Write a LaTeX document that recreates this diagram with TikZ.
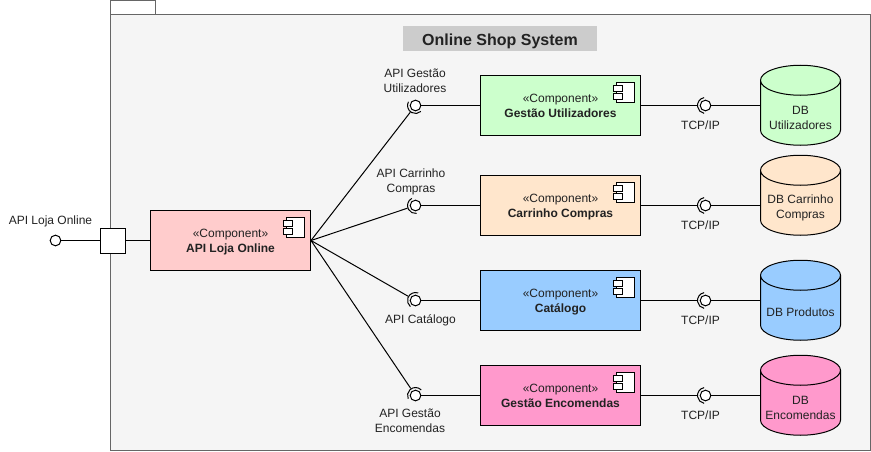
\documentclass[tikz,border=0pt]{standalone}
\usepackage{fontspec}
\setmainfont{Liberation Sans}
\usetikzlibrary{shapes.geometric}
\definecolor{frameGray}{HTML}{666666}
\definecolor{frameFill}{HTML}{F5F5F5}
\definecolor{titleGray}{HTML}{CCCCCC}
\definecolor{textGray}{HTML}{222222}
\definecolor{redFill}{HTML}{FFCCCC}
\definecolor{greenFill}{HTML}{CCFFCC}
\definecolor{orangeFill}{HTML}{FFE6CC}
\definecolor{blueFill}{HTML}{99CCFF}
\definecolor{pinkFill}{HTML}{FF99CC}
\tikzset{
	x = 0.75pt, y = 0.75pt,
	every node/.style = {font = \fontsize{9}{11.25}\selectfont, text = textGray, align = center},
	wire/.style = {draw = black, line width = 0.75pt},
	component/.style = {draw = black, line width = 0.75pt, minimum width = 120pt, minimum height = 45pt, inner sep = 0pt},
	ball/.style = {circle, draw = black, fill = white, line width = 0.75pt, minimum size = 8pt, inner sep = 0pt},
	database/.style = {cylinder, shape border rotate = 90, shape aspect = 1, draw = black, line width = 0.75pt, minimum width = 60pt, minimum height = 60pt, inner sep = 0pt},
	dbtext/.style = {yshift = -3.4pt},
	compicon/.pic = {
		\draw[black, fill = white, line width = 0.75pt] (-25, -7) rectangle (-7, -27);
		\draw[black, fill = white, line width = 0.75pt] (-27.5, -10.5) rectangle (-19, -16);
		\draw[black, fill = white, line width = 0.75pt] (-27.5, -18.5) rectangle (-19, -24);
	}
}
\newcommand{\sockarc}[2]{\draw[wire] (#1) ++(#2 - 80 : 6pt) arc[start angle = #2 - 80, end angle = #2 + 80, radius = 6pt];}
\newcommand{\complbl}[1]{\rule{0pt}{9pt}«Component»\\\textbf{#1}\rule[-2.25pt]{0pt}{2.25pt}}
\newcommand{\dbspan}{\hspace*{22.5pt}}
\begin{document}
\begin{tikzpicture}
	\useasboundingbox (0, 0) rectangle (871, 451);
	\draw[frameGray, line width = 0.75pt] (110.5, 436.5) rectangle (155.5, 450.5);
	\draw[frameGray, fill = frameFill, line width = 0.75pt] (110.5, 0.5) rectangle (870.5, 436.5);
	\node[fill = titleGray, minimum width = 145.5pt, minimum height = 18.75pt, inner sep = 0pt, font = \fontsize{12}{14}\selectfont\bfseries] (title) at (500, 412.5) {\rule{0pt}{12.5pt}Online Shop System\vphantom{y}};

	\node[component, fill = redFill] (compLoja) at (230.5, 210.5) {\complbl{API Loja Online}};
	\node[component, fill = greenFill] (compUtil) at (560.5, 345.5) {\complbl{Gestão Utilizadores}};
	\node[component, fill = orangeFill] (compCarr) at (560.5, 245.5) {\complbl{Carrinho Compras}};
	\node[component, fill = blueFill] (compCat) at (560.5, 150.5) {\complbl{Catálogo}};
	\node[component, fill = pinkFill] (compEnc) at (560.5, 55.5) {\complbl{Gestão Encomendas}};
	\pic at (compLoja.north east) {compicon};
	\pic at (compUtil.north east) {compicon};
	\pic at (compCarr.north east) {compicon};
	\pic at (compCat.north east) {compicon};
	\pic at (compEnc.north east) {compicon};

	\node[draw = black, fill = white, line width = 0.75pt, minimum size = 18.75pt, inner sep = 0pt] (port) at (113, 210.5) {};
	\node[ball] (ballLoja) at (55.5, 210.5) {};
	\node (lblLoja) at (50.5, 230) {API Loja Online};
	\draw[wire] (ballLoja) -- (port);
	\draw[wire] (port) -- (compLoja);

	\node[ball] (apiUtil) at (415.5, 345.5) {};
	\node[ball] (apiCarr) at (415.5, 245.5) {};
	\node[ball] (apiCat) at (415.5, 150.5) {};
	\node[ball] (apiEnc) at (415.5, 55.5) {};
	\node (lblUtil) at (415, 370.5) {API Gestão\\Utilizadores};
	\node (lblCarr) at (411, 269.5) {API Carrinho\\Compras};
	\node (lblCat) at (420.5, 131) {API Catálogo};
	\node (lblEnc) at (410, 30.5) {API Gestão\\Encomendas};
	\foreach \api/\comp/\ang in {apiUtil/compUtil/232, apiCarr/compCarr/198, apiCat/compCat/150, apiEnc/compEnc/124} {
		\draw[wire] (\api) -- (\comp);
		\draw[wire, shorten > = 2pt] (compLoja.east) -- (\api);
		\sockarc{\api}{\ang}
	}

	\node[database, fill = greenFill, label = {[dbtext]center:{DB\\Utilizadores}}] (dbUtil) at (800.5, 338) {\dbspan};
	\node[database, fill = orangeFill, label = {[dbtext]center:{DB Carrinho\\Compras}}] (dbCarr) at (800.5, 248) {\dbspan};
	\node[database, fill = blueFill, label = {[dbtext]center:{DB Produtos}}] (dbCat) at (800.5, 143) {\dbspan};
	\node[database, fill = pinkFill, label = {[dbtext]center:{DB\\Encomendas}}] (dbEnc) at (800.5, 48) {\dbspan};

	\node[ball] (tcpUtil) at (705.5, 345.5) {};
	\node[ball] (tcpCarr) at (705.5, 245.5) {};
	\node[ball] (tcpCat) at (705.5, 150.5) {};
	\node[ball] (tcpEnc) at (705.5, 55.5) {};
	\node (lblTcpUtil) at (700.5, 326) {TCP/IP};
	\node (lblTcpCarr) at (700.5, 226) {TCP/IP};
	\node (lblTcpCat) at (700.5, 131) {TCP/IP};
	\node (lblTcpEnc) at (700.5, 36) {TCP/IP};
	\foreach \tcp/\comp/\db in {tcpUtil/compUtil/dbUtil, tcpCarr/compCarr/dbCarr, tcpCat/compCat/dbCat, tcpEnc/compEnc/dbEnc} {
		\draw[wire, shorten > = 2pt] (\comp) -- (\tcp);
		\draw[wire] (\tcp) -- (\tcp -| \db.west);
		\sockarc{\tcp}{180}
	}
\end{tikzpicture}
\end{document}
